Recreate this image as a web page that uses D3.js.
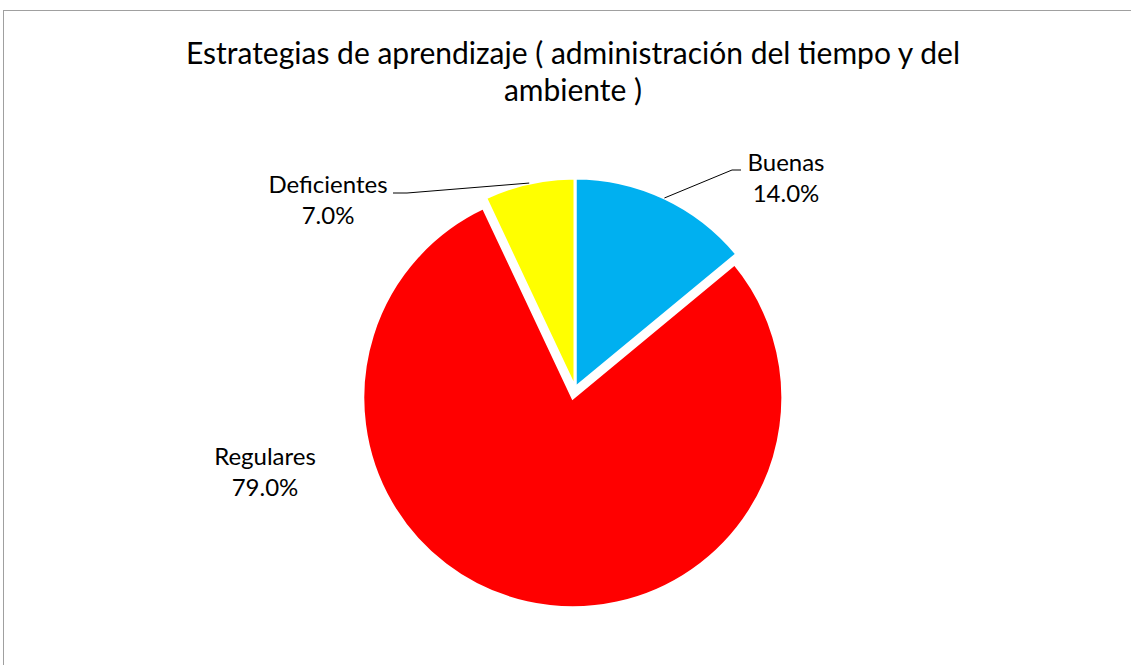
<html>
<head>
<meta charset="utf-8">
<title>Estrategias de aprendizaje</title>
<style type="text/css">
body { margin: 0; background: #fff; }
text { font-family: Lato, "Open Sans", sans-serif; fill: #000; }
</style>
</head>
<body>
<script src="https://d3js.org/d3.v7.min.js"></script>
<script>

// data
var categories = ["Buenas", "Regulares", "Deficientes"];
var values = [14.0, 79.0, 7.0];
var colors = ["#00b0f0", "#ff0000", "#ffff00"];
var titleLines = ["Estrategias de aprendizaje ( administración del tiempo y del", "ambiente )"];

var width = 1131, height = 665;
var cx = 575, cy = 388, radius = 210;

var svg = d3.select("body").append("svg")
    .attr("width", width)
    .attr("height", height);

// chart area frame
svg.append("rect")
    .attr("x", 3.5).attr("y", 10.5)
    .attr("width", width).attr("height", height)
    .attr("fill", "none")
    .attr("stroke", "#a0a0a0")
    .attr("stroke-width", 1);

// title
svg.selectAll(".title")
    .data(titleLines)
    .enter().append("text")
    .attr("class", "title")
    .attr("x", 573)
    .attr("y", function(d, i) { return 64 + i * 37; })
    .attr("text-anchor", "middle")
    .style("font-size", "30px")
    .text(function(d) { return d; });

var pie = d3.pie().sort(null).value(function(d) { return d; });
var arcs = pie(values);
var arc = d3.arc().innerRadius(0).outerRadius(radius);

// Regulares is pulled out a little
var explode = [0, 10, 0];

var g = svg.append("g")
    .attr("transform", "translate(" + cx + "," + cy + ")");

g.selectAll(".slice")
    .data(arcs)
    .enter().append("path")
    .attr("class", "slice")
    .attr("d", arc)
    .attr("transform", function(d, i) {
      var a = (d.startAngle + d.endAngle) / 2;
      return "translate(" + (Math.sin(a) * explode[i]) + "," + (-Math.cos(a) * explode[i]) + ")";
    })
    .attr("fill", function(d, i) { return colors[i]; })
    .attr("stroke", "#fff")
    .attr("stroke-width", 3)
    .attr("stroke-linejoin", "miter");

// label spots (relative to the pie centre), set by hand like in the sheet
var labelPos = [[211, -217], [-310, 77], [-247, -195]];
var leaderEnd = [[[157, -218], [166, -218]], null, [[-168, -195], [-182, -195]]];

g.selectAll(".leader")
    .data(arcs.filter(function(d, i) { return leaderEnd[i]; }))
    .enter().append("polyline")
    .attr("class", "leader")
    .attr("fill", "none")
    .attr("stroke", "#000")
    .attr("stroke-width", 1)
    .attr("points", function(d) {
      var a = (d.startAngle + d.endAngle) / 2;
      var pts = [[Math.sin(a) * radius, -Math.cos(a) * radius]].concat(leaderEnd[d.index]);
      return pts.map(function(p) { return p.join(","); }).join(" ");
    });

var labels = g.selectAll(".label")
    .data(arcs)
    .enter().append("text")
    .attr("class", "label")
    .attr("text-anchor", "middle")
    .style("font-size", "24px")
    .attr("transform", function(d, i) { return "translate(" + labelPos[i][0] + "," + labelPos[i][1] + ")"; });

labels.append("tspan")
    .attr("x", 0).attr("dy", 0)
    .text(function(d, i) { return categories[i]; });
labels.append("tspan")
    .attr("x", 0).attr("dy", 31)
    .text(function(d, i) { return d3.format(".1f")(values[i]) + "%"; });

</script>
</body>
</html>
